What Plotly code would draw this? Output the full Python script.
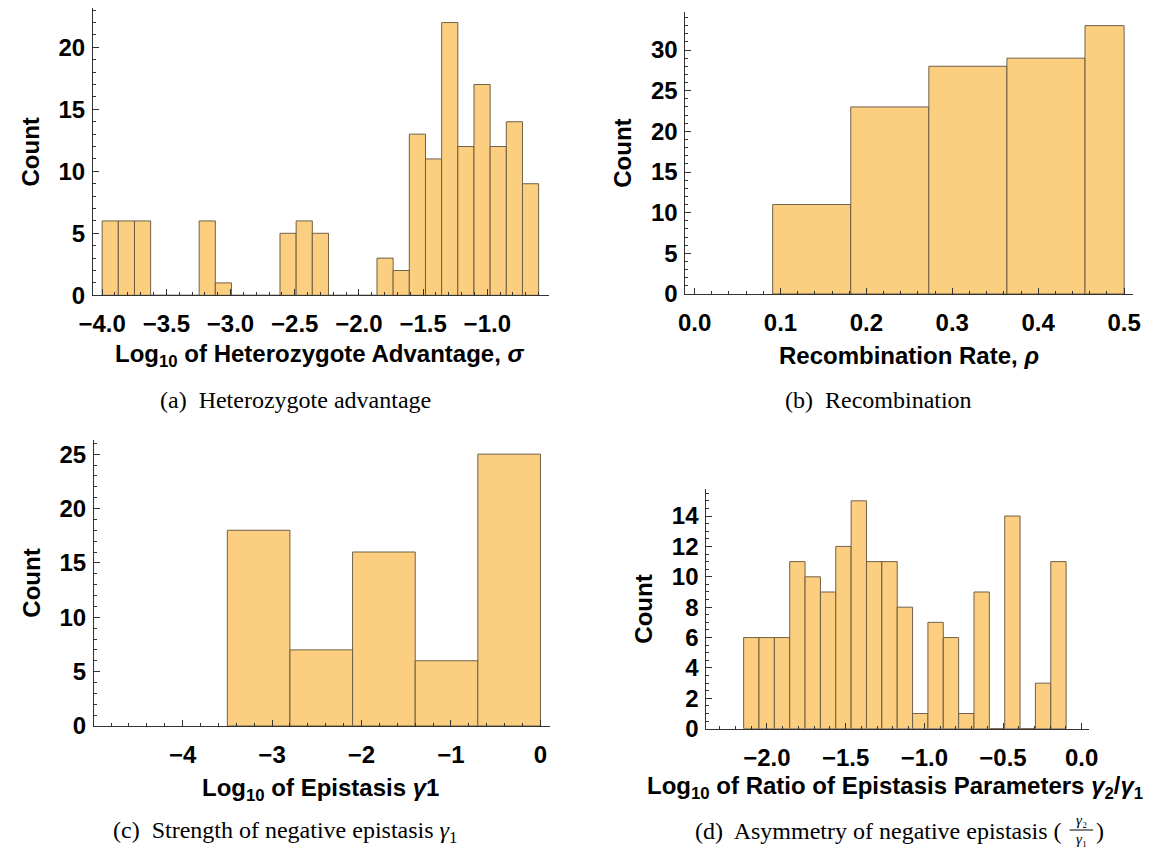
import numpy as np
import plotly.graph_objects as go

W, H = 1157, 850

# ---------------- data ----------------
# (a) Log10 of heterozygote advantage
a_start, a_end = -4.0, -0.6
a_counts = [6, 6, 6, 0, 0, 0, 6, 1, 0, 0, 0, 5, 6, 5, 0, 0, 0,
            3, 2, 13, 11, 22, 12, 17, 12, 14, 9]
# (b) Recombination rate
b_edges = [0.0909, 0.1818, 0.2727, 0.3636, 0.4545, 0.5]
b_counts = [11, 23, 28, 29, 33]
# (c) Log10 of epistasis gamma1
c_edges = [-3.5, -2.8, -2.1, -1.4, -0.7, 0.0]
c_counts = [18, 7, 16, 6, 25]
# (d) Log10 of ratio gamma2/gamma1
d_start, d_end = -2.148, -0.099
d_counts = [6, 6, 6, 11, 10, 9, 12, 15, 11, 11, 8, 1, 7, 6, 1, 9, 0, 14, 0, 3, 11]

a_edges = np.linspace(a_start, a_end, len(a_counts) + 1)
d_edges = np.linspace(d_start, d_end, len(d_counts) + 1)

FILL = "rgb(252,207,128)"
EDGE = "rgba(105,90,65,0.95)"
AXC = "#333333"
SANS = "Liberation Sans"
SERIF = "Liberation Serif"


def bars(edges, counts, xa, ya):
    e = np.asarray(edges, dtype=float)
    c = np.asarray(counts, dtype=float)
    centers = (e[:-1] + e[1:]) / 2
    widths = e[1:] - e[:-1]
    return go.Bar(x=centers, y=c, width=widths, xaxis=xa, yaxis=ya,
                  marker=dict(color=FILL, line=dict(color=EDGE, width=1)),
                  showlegend=False, hoverinfo="x+y")


fig = go.Figure()
fig.add_trace(bars(a_edges, a_counts, "x", "y"))
fig.add_trace(bars(b_edges, b_counts, "x2", "y2"))
fig.add_trace(bars(c_edges, c_counts, "x3", "y3"))
fig.add_trace(bars(d_edges, d_counts, "x4", "y4"))


def xd(l, r):
    return [l / W, r / W]


def yd(top, bottom):
    return [1 - bottom / H, 1 - top / H]


tickfont = dict(family=SANS, size=24, color="black", weight="bold")
titlefont = dict(family=SANS, size=24, color="black", weight="bold")


def xaxis(dom, rng, dtick, tick0, minor, fmt, anchor):
    return dict(domain=dom, range=rng, anchor=anchor, showgrid=False, zeroline=False,
                showline=True, linecolor=AXC, linewidth=1,
                ticks="inside", ticklen=6, tickwidth=1, tickcolor=AXC,
                dtick=dtick, tick0=tick0, tickformat=fmt, tickfont=tickfont,
                ticklabelstandoff=7,
                minor=dict(ticks="inside", ticklen=3, tickwidth=1, tickcolor=AXC,
                           dtick=minor, tick0=tick0, showgrid=False),
                fixedrange=True)


def yaxis(dom, rng, dtick, minor, anchor):
    return dict(domain=dom, range=rng, anchor=anchor, showgrid=False, zeroline=False,
                showline=True, linecolor=AXC, linewidth=1,
                ticks="inside", ticklen=6, tickwidth=1, tickcolor=AXC,
                dtick=dtick, tick0=0, tickfont=tickfont,
                ticklabelstandoff=2,
                title=dict(text="Count", font=titlefont, standoff=12),
                automargin=False,
                minor=dict(ticks="inside", ticklen=3, tickwidth=1, tickcolor=AXC,
                           dtick=minor, tick0=0, showgrid=False),
                fixedrange=True)


fig.update_layout(
    width=W, height=H, autosize=False,
    margin=dict(l=0, r=0, t=0, b=0),
    paper_bgcolor="white", plot_bgcolor="white",
    xaxis=xaxis(xd(80.7, 546), [-4.071, -0.522], 0.5, -4.0, 0.1, ".1f", "y"),
    yaxis=yaxis(yd(8.3, 295.3), [0, 23.15], 5, 1, "x"),
    xaxis2=xaxis(xd(685.7, 1143), [-0.0106, 0.5107], 0.1, 0.0, 0.02, ".1f", "y2"),
    yaxis2=yaxis(yd(12.2, 294), [0, 34.65], 5, 1, "x2"),
    xaxis3=xaxis(xd(81.7, 547.3), [-4.99, 0.106], 1, 0, 0.2, ".0f", "y3"),
    yaxis3=yaxis(yd(440, 726), [0, 26.3], 5, 1, "x3"),
    xaxis4=xaxis(xd(707, 1097.4), [-2.385, 0.044], 0.5, 0.0, 0.1, ".1f", "y4"),
    yaxis4=yaxis(yd(489.3, 728.7), [0, 15.76], 2, 0.5, "x4"),
)

capfont = dict(family=SERIF, size=24, color="black")


def ann(text, x, y, font, xanchor="center"):
    fig.add_annotation(text=text, x=x / W, y=1 - y / H, xref="paper", yref="paper",
                       showarrow=False, font=font,
                       xanchor=xanchor, yanchor="middle")


# axis titles
ann("Log<sub>10</sub> of Heterozygote Advantage, <i>σ</i>", 312, 355, titlefont)
ann("Recombination Rate, <i>ρ</i>", 914, 355, titlefont)
ann("Log<sub>10</sub> of Epistasis <i>γ</i>1", 313, 789, titlefont)
ann("Log<sub>10</sub> of Ratio of Epistasis Parameters <i>γ</i><sub>2</sub>/<i>γ</i><sub>1</sub>",
    900, 787, titlefont)

# captions
ann("(a)  Heterozygote advantage", 287, 400, capfont)
ann("(b)  Recombination", 883, 400, capfont)
ann("(c)  Strength of negative epistasis <i>γ</i><sub>1</sub>", 277, 832, capfont)
ann("(d)  Asymmetry of negative epistasis (", 1072, 831, capfont, xanchor="right")
fracfont = dict(family=SERIF, size=15, color="black")
ann("<i>γ</i>₂", 1090, 820, fracfont)
ann("<i>γ</i>₁", 1090, 839, fracfont)
fig.add_shape(type="line", xref="paper", yref="paper",
              x0=1078 / W, x1=1102 / W, y0=1 - 830 / H, y1=1 - 830 / H,
              line=dict(color="black", width=1))
ann(")", 1103, 831, capfont, xanchor="left")

fig.write_html("out.html")
